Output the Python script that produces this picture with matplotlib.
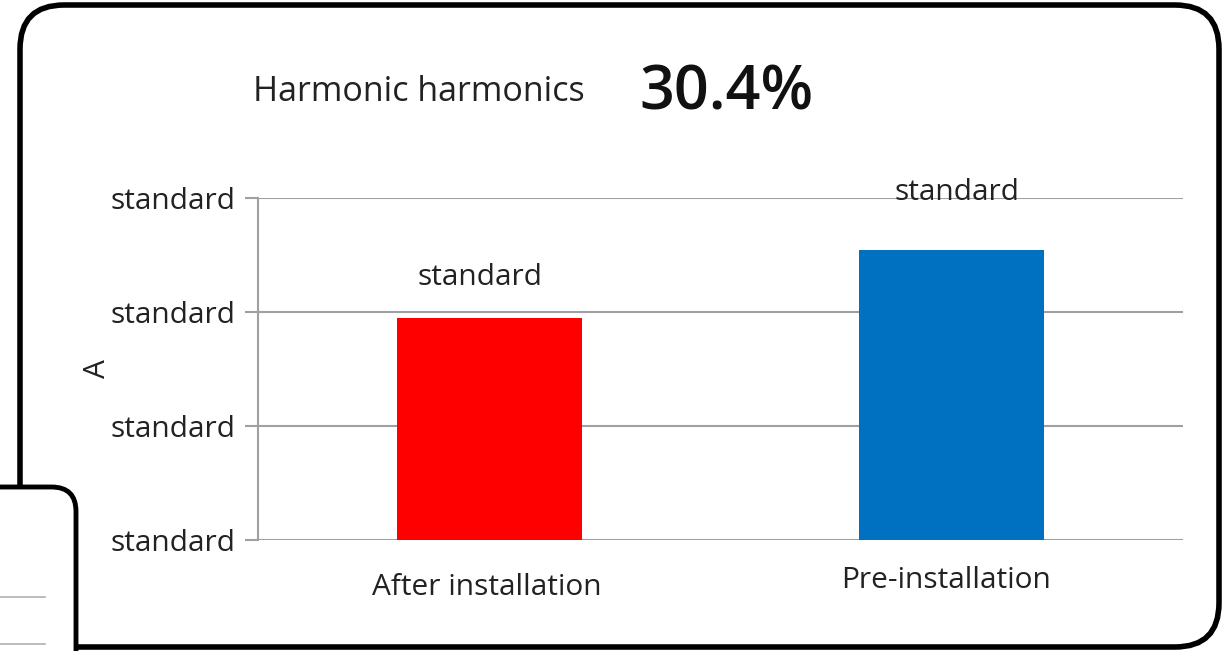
import matplotlib.pyplot as plt
from matplotlib.patches import FancyBboxPatch

# data
categories = ['After installation', 'Pre-installation']
values = [1.95, 2.54]
bar_colors = ['#ff0000', '#0070c0']
bar_labels = ['standard', 'standard']
y_ticks = [0, 1, 2, 3]
y_tick_labels = ['standard', 'standard', 'standard', 'standard']
title_text = 'Harmonic harmonics'
title_value = '30.4%'

plt.rcParams['font.family'] = ['Open Sans', 'DejaVu Sans']
FS = 21.5

fig = plt.figure(figsize=(12.24, 6.51), dpi=100)

# outer rounded frame
frame = FancyBboxPatch((20 / 1224, 4 / 651), 1199 / 1224, 642 / 651,
                       boxstyle='round,pad=0,rounding_size=0.036',
                       transform=fig.transFigure, facecolor='white',
                       edgecolor='black', linewidth=4, mutation_aspect=1224 / 651,
                       zorder=0)
fig.patches.append(frame)

# partial second panel at bottom-left
frame2 = FancyBboxPatch((-60 / 1224, -40 / 651), 136 / 1224, 204 / 651,
                        boxstyle='round,pad=0,rounding_size=0.02',
                        transform=fig.transFigure, facecolor='white',
                        edgecolor='black', linewidth=3.5, mutation_aspect=1224 / 651,
                        zorder=0.5)
fig.patches.append(frame2)
for yy in [597, 644]:
    fig.add_artist(plt.Line2D([0, 45 / 1224], [1 - yy / 651, 1 - yy / 651],
                              transform=fig.transFigure, color='#b0b0b0',
                              linewidth=1.2, zorder=0.6))

ax = fig.add_axes([258 / 1224, 1 - 540 / 651, 925 / 1224, 342 / 651])
ax.set_facecolor('none')
ax.set_zorder(2)

x = range(len(categories))
ax.bar(x, values, width=0.40, color=bar_colors, zorder=3)

ax.set_xlim(-0.5, 1.5)
ax.set_ylim(0, 3)
ax.set_yticks(y_ticks)
ax.set_yticklabels(y_tick_labels, fontsize=FS, color='#222222')
ax.tick_params(axis='y', length=9.5, width=1.5, color='#a0a0a0', pad=7)
ax.tick_params(axis='x', length=0)
ax.set_xticks([])
ax.grid(axis='y', color='#a0a0a0', linewidth=1.5, zorder=1)
ax.set_axisbelow(True)
for s in ['top', 'right', 'bottom']:
    ax.spines[s].set_visible(False)
ax.spines['left'].set_color('#a0a0a0')
ax.spines['left'].set_linewidth(1.5)

# category labels (slightly different offsets as in original)
cat_offsets = [(-1.5, -34), (-4, -29)]
for i, (c, off) in enumerate(zip(categories, cat_offsets)):
    ax.annotate(c, xy=(i, 0), xytext=off, textcoords='offset points',
                ha='center', va='center', fontsize=FS, color='#222222')

# value labels above bars
lab_offsets = [(-7, 29), (3.6, 42)]
for i, (v, lab, off) in enumerate(zip(values, bar_labels, lab_offsets)):
    ax.annotate(lab, xy=(i, v), xytext=off, textcoords='offset points',
                ha='center', va='center', fontsize=FS, color='#222222')

ax.set_ylabel('A', fontsize=FS, color='#222222', va='center')
ax.yaxis.set_label_coords(-0.174, 0.5)

fig.text(419 / 1224, 1 - 92 / 651, title_text, ha='center', va='center',
         fontsize=24.5, color='#222222', zorder=3)
fig.text(727 / 1224, 1 - 94 / 651, title_value, ha='center', va='center',
         fontsize=44, fontweight='semibold', color='#111111', zorder=3)

fig.savefig('out.png', dpi=100)
